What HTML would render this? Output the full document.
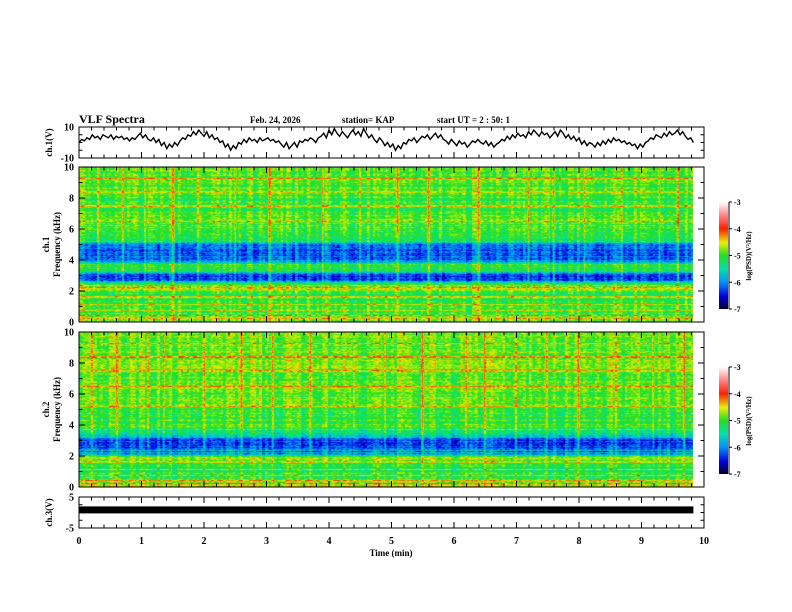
<!DOCTYPE html>
<html><head><meta charset="utf-8"><style>
html,body{margin:0;padding:0;background:#fff;width:792px;height:612px;overflow:hidden}
svg text{font-family:"Liberation Serif",serif;font-weight:bold;fill:#000}
#wrap{position:relative;width:792px;height:612px}
canvas{position:absolute}
</style></head><body>
<div id="wrap">
<canvas id="s1" width="614" height="155" style="left:79px;top:167px"></canvas>
<canvas id="s2" width="614" height="155" style="left:79px;top:332px"></canvas>
<svg id="svg" width="792" height="612" style="position:absolute;left:0;top:0">
<defs>
<linearGradient id="cb" x1="0" y1="1" x2="0" y2="0">
<stop offset="0" stop-color="#000030"/><stop offset="0.12" stop-color="#0000e0"/>
<stop offset="0.25" stop-color="#0090ff"/><stop offset="0.37" stop-color="#00e0b0"/>
<stop offset="0.5" stop-color="#20e020"/><stop offset="0.62" stop-color="#e8f000"/>
<stop offset="0.75" stop-color="#ff2000"/><stop offset="0.87" stop-color="#ff8080"/>
<stop offset="1" stop-color="#ffffff"/></linearGradient></defs>
<text x="79" y="123" font-size="12">VLF Spectra</text>
<text x="250" y="123" font-size="9">Feb. 24, 2026</text>
<text x="342" y="123" font-size="9">station= KAP</text>
<text x="437" y="123" font-size="9">start  UT =  2 : 50: 1</text>
<text x="391" y="556" font-size="9" text-anchor="middle">Time  (min)</text>
<g id="axes"></g>
</svg>
</div>
<script>
const timeMin=[0,10];
const xTicks=[0,1,2,3,4,5,6,7,8,9,10];
const ch1Values=[0,2,1,3,2,5,3,4,2,5,4,3,5,2,4,3,4,2,3,1,3,2,4,6,3,5,2,1,3,0,2,-2,0,-4,-1,-3,0,-2,1,3,2,5,4,7,5,8,6,4,7,3,5,2,3,0,1,-3,-1,-5,-2,-4,0,-1,2,0,3,1,2,0,3,1,2,3,1,2,0,1,-1,-3,0,-4,-2,0,-3,1,0,2,1,3,2,0,3,4,6,3,8,5,9,6,4,7,5,3,6,8,5,7,4,9,6,3,5,2,0,3,1,-2,0,-3,-1,-5,-2,-4,0,-1,2,1,3,0,2,4,3,5,2,4,6,3,5,2,1,-1,2,0,-2,1,-1,0,-3,-1,1,0,2,0,-1,1,-2,0,-3,-1,0,2,1,4,2,5,3,6,4,5,3,7,5,8,6,4,7,5,6,3,5,7,4,8,6,3,5,2,4,1,3,-1,1,-2,0,-1,-3,0,-2,1,-1,2,0,3,1,2,0,1,-1,0,-2,-1,-4,-1,-3,0,1,3,2,5,4,3,6,4,7,5,6,8,5,7,4,2,3,0];
const ch3Level=1;
const freqKHz=[0,0.3,0.6,1.0,1.5,1.9,2.1,2.4,2.7,3.0,3.3,3.6,4.0,4.5,5.0,5.3,5.7,6.0,6.5,7.0,8.0,9.0,10];
const ch1Profile=[-4.6,-4.8,-5.0,-5.0,-5.1,-5.0,-4.5,-5.1,-6.2,-6.3,-5.2,-5.1,-6.1,-6.2,-6.0,-5.1,-5.0,-5.0,-4.8,-5.0,-5.0,-4.9,-4.9];
const ch2Profile=[-4.6,-4.8,-5.0,-5.1,-5.1,-4.6,-6.0,-6.2,-6.3,-6.2,-5.6,-5.2,-5.0,-5.0,-5.0,-4.9,-4.9,-5.0,-4.8,-4.9,-4.8,-4.8,-4.8];
const ch1Bursts=[0.3,0.7,1.05,1.5,1.9,2.5,3.05,3.9,4.5,5.1,5.6,6.4,7.2,7.6,8.1,8.7,9.3,9.6];
const ch2Bursts=[0.2,0.6,1.1,1.35,2.0,2.6,3.1,3.7,4.4,4.9,5.5,6.2,6.5,7.0,7.5,8.0,8.6,9.2,9.7];
const lineFreqs=[0.2,0.4,0.7,1.1,1.6,2.2,2.35,3.7,5.2,6.5,7.5,8.4,9.3];

const X0=79,X1=704;
const xs=t=>X0+(t-timeMin[0])/(timeMin[1]-timeMin[0])*(X1-X0);
const NS='http://www.w3.org/2000/svg';
const G=document.getElementById('axes');
function el(tag,attrs,parent){const e=document.createElementNS(NS,tag);for(const k in attrs)e.setAttribute(k,attrs[k]);(parent||G).appendChild(e);return e;}
function txt(x,y,s,anchor,size,parent){const t=el('text',{x:x,y:y,'font-size':size||9,'text-anchor':anchor||'end'},parent);t.textContent=s;return t;}

function panel(name,top,bot,yTicks,yMin,yMax,label,minorStep){
  const g=el('g',{});
  
  
  const ys=v=>bot-(v-yMin)/(yMax-yMin)*(bot-top);
  el('rect',{x:X0,y:top,width:X1-X0,height:bot-top,fill:'none',stroke:'#000','stroke-width':1},g);
  for(let t=0;t<=10.001;t+=0.2){const x=xs(t);const maj=Math.abs(t-Math.round(t))<1e-6;const L=maj?6:3.5;
    el('line',{x1:x,y1:top,x2:x,y2:top+L,stroke:'#000'},g);el('line',{x1:x,y1:bot,x2:x,y2:bot-L,stroke:'#000'},g);}
  for(let v=yMin;v<=yMax+1e-6;v+=minorStep){const y=ys(v);const maj=yTicks.some(q=>Math.abs(q-v)<1e-6);const L=maj?6:3.5;
    el('line',{x1:X0,y1:y,x2:X0+L,y2:y,stroke:'#000'},g);el('line',{x1:X1,y1:y,x2:X1-L,y2:y,stroke:'#000'},g);}
  yTicks.forEach(v=>{const t=txt(X0-5,ys(v)+3.5,String(v),'end',10,g);});
  const lab=el('text',{transform:`translate(52,${(top+bot)/2}) rotate(-90)`,'font-size':9,'text-anchor':'middle'},g);
  if(Array.isArray(label)){lab.setAttribute('transform',`translate(49,${(top+bot)/2}) rotate(-90)`);
    label.forEach((s,i)=>{const ts=el('tspan',{x:0,dy:i?11:0},lab);ts.textContent=s;});}
  else lab.textContent=label;
  
  
  return ys;
}
const y1=panel('ch1-panel',127,158,[10,-10],-10,10,'ch.1(V)',5);
panel('spec1-panel',167,322,[0,2,4,6,8,10],0,10,['ch.1','Frequency (kHz)'],1);
panel('spec2-panel',332,487,[0,2,4,6,8,10],0,10,['ch.2','Frequency (kHz)'],1);
const y3=panel('ch3-panel',497,528,[5,-5],-5,5,'ch.3(V)',2.5);
xTicks.forEach(t=>{const e=txt(xs(t),544,String(t),'middle',10);});

const dataEnd=9.83;
let d='';ch1Values.forEach((v,i)=>{const t=i/(ch1Values.length-1)*dataEnd;d+=(i?'L':'M')+xs(t).toFixed(1)+','+y1(v).toFixed(1);});
const wl=el('path',{d:d,fill:'none',stroke:'#000','stroke-width':1.4});


const b3=el('rect',{x:xs(0),y:y3(ch3Level)-3,width:xs(dataEnd)-xs(0),height:7,fill:'#000'});



function cbar(name,top){const g=el('g',{});
  
  
  el('rect',{x:719,y:top,width:9,height:107,fill:'url(#cb)'},g);
  el('line',{x1:729,y1:top,x2:729,y2:top+107,stroke:'#000'},g);
  [-3,-4,-5,-6,-7].forEach((v,i)=>{const y=top+i*107/4;el('line',{x1:729,y1:y,x2:732,y2:y,stroke:'#000'},g);txt(734,y+3,String(v),'start',8,g);});
  const l=el('text',{transform:`translate(751,${top+54}) rotate(-90)`,'font-size':7,'text-anchor':'middle'},g);l.textContent='log(PSD)(V\u00b2/Hz)';}
cbar('colorbar-ch1',202);cbar('colorbar-ch2',367);

const cmap=[[-7,0,0,48],[-6.5,0,0,224],[-6,0,144,255],[-5.5,0,224,176],[-5,32,224,32],[-4.5,232,240,0],[-4,255,32,0],[-3.5,255,128,128],[-3,255,255,255]];
function col(v){v=Math.max(-7,Math.min(-3,v));for(let i=1;i<cmap.length;i++){if(v<=cmap[i][0]){const a=cmap[i-1],b=cmap[i],f=(v-a[0])/(b[0]-a[0]);return [a[1]+f*(b[1]-a[1]),a[2]+f*(b[2]-a[2]),a[3]+f*(b[3]-a[3])];}}return [255,255,255];}
function interp(xa,ya,x){for(let i=1;i<xa.length;i++)if(x<=xa[i]){const f=(x-xa[i-1])/(xa[i]-xa[i-1]);return ya[i-1]+f*(ya[i]-ya[i-1]);}return ya[ya.length-1];}
function h(a,b){let n=(a*374761393+b*668265263)|0;n=(n^(n>>>13))*1274126177|0;return ((n^(n>>>16))>>>0)/4294967296;}
function draw(id,prof,bursts,seed){const c=document.getElementById(id),ctx=c.getContext('2d');const W=c.width,H=c.height;const img=ctx.createImageData(W,H);
  const colN=[];for(let x=0;x<W;x++)colN.push((h((x/3)|0,seed)-0.5)*0.45);
  for(let y=0;y<H;y++){const f=(H-1-y)/(H-1)*10;let base=interp(freqKHz,prof,f);
    let line=0;lineFreqs.forEach(lf=>{if(Math.abs(f-lf)<0.05)line=0.5;});const rowN=(h(y,seed+7)-0.5)*0.35;
    for(let x=0;x<W;x++){const t=x/(W-1)*dataEnd;let bst=0;bursts.forEach(b=>{const dt=Math.abs(t-b);if(dt<0.025)bst=Math.max(bst,(1-dt/0.025)*0.7*(f>2.5?1:0.4));});
      let v=base+colN[x]+rowN+line+bst+(h(((x/2)|0)*3+y*911,seed)-0.5)*0.55;const [r,g,b]=col(v);const k=(y*W+x)*4;img.data[k]=r;img.data[k+1]=g;img.data[k+2]=b;img.data[k+3]=255;}}
  ctx.putImageData(img,0,0);}
draw('s1',ch1Profile,ch1Bursts,11);draw('s2',ch2Profile,ch2Bursts,23);
</script>
</body></html>
